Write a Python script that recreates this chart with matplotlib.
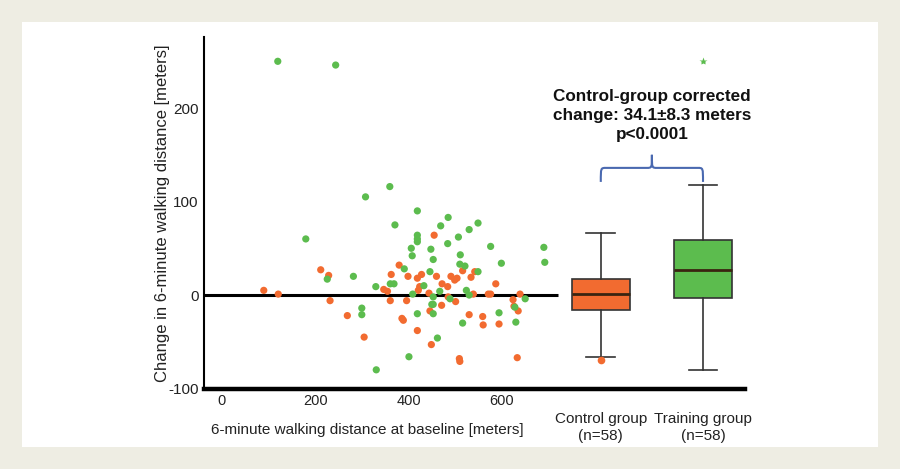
import matplotlib
matplotlib.use("Agg")
import matplotlib.pyplot as plt
from matplotlib.patches import Rectangle, PathPatch
from matplotlib.path import Path
from matplotlib import font_manager

# ---------------- data ----------------
control_x = [90, 121, 212, 229, 232, 269, 305, 347, 355, 363, 361, 380, 399, 396,
             386, 389, 419, 424, 421, 428, 419, 444, 446, 449, 455, 460, 471, 472,
             484, 491, 499, 504, 501, 509, 510, 516, 530, 534, 542, 539, 559, 560,
             571, 576, 587, 594, 624, 626, 635, 633, 639, 485]
control_y = [5, 1, 27, 21, -6, -22, -45, 6, 4, 22, -6, 32, 20, -6,
             -25, -27, 18, 9, 5, 22, -38, 2, -17, -53, 64, 20, -11, 12,
             9, 20, 16, 18, -7, -68, -71, 26, -21, 19, 25, 1, -23, -32,
             1, 1, 12, -31, -5, -12, -17, -67, 1, -2]

training_x = [120, 244, 180, 226, 282, 300, 300, 308, 330, 331, 360, 361, 369, 371,
              391, 401, 406, 408, 409, 419, 419, 419, 419, 419, 433, 446, 448, 453,
              453, 453, 450, 453, 462, 467, 469, 484, 485, 489, 507, 511, 510, 521,
              516, 524, 530, 530, 549, 549, 576, 594, 599, 628, 630, 650, 690, 692]
training_y = [250, 246, 60, 17, 20, -14, -21, 105, 9, -80, 116, 12, 12, 75,
              28, -66, 50, 42, 1, 90, 64, 60, 57, -20, 10, 25, 49, 38,
              -2, -10, -10, -20, -46, 4, 74, 55, 83, -4, 62, 43, 33, 31,
              -30, 5, 0, 70, 77, 25, 52, -19, 34, -13, -29, -4, 51, 35]

group_labels = ["Control group\n(n=58)", "Training group\n(n=58)"]
box_q1 = [-16, -3]
box_med = [1, 27]
box_q3 = [17, 59]
box_whislo = [-66, -80]
box_whishi = [66, 118]
box_fliers = [[-70], [250]]

x_ticks = [0, 200, 400, 600]
y_ticks = [-100, 0, 100, 200]

annotation = "Control-group corrected\nchange: 34.1±8.3 meters\np<0.0001"

# ---------------- style ----------------
orange = "#F26B30"
green = "#5CBC4E"
brace_col = "#4A69B0"
bg = "#EEEDE3"

names = {f.name for f in font_manager.fontManager.ttflist}
base_font = "Liberation Sans" if "Liberation Sans" in names else "DejaVu Sans"
plt.rcParams["font.family"] = [base_font, "DejaVu Sans"]

fig = plt.figure(figsize=(9, 4.69), dpi=100, facecolor=bg)
fig.patches.append(Rectangle((22 / 900, 22 / 469), 856 / 900, 425 / 469,
                             transform=fig.transFigure, facecolor="white",
                             edgecolor="none", zorder=-10))

ax = fig.add_axes([0.2267, 0.1716, 0.6011, 0.7495])
ax.set_zorder(1)
ax.set_facecolor("none")
ax.set_xlim(-38, 1121)
ax.set_ylim(-100, 276)

# zero reference line across the scatter part
ax.hlines(0, -38, 720, color="black", lw=2.2, zorder=2)

ax.scatter(control_x, control_y, s=27, color=orange, edgecolors="none", zorder=3)
ax.scatter(training_x, training_y, s=27, color=green, edgecolors="none", zorder=3)

positions = [812, 1031]
stats = []
for i in range(2):
    stats.append(dict(med=box_med[i], q1=box_q1[i], q3=box_q3[i],
                      whislo=box_whislo[i], whishi=box_whishi[i],
                      fliers=box_fliers[i], label=group_labels[i]))
bp = ax.bxp(stats, positions=positions, widths=124, patch_artist=True,
            capwidths=62, showfliers=True, manage_ticks=False,
            boxprops=dict(edgecolor="#333333", linewidth=1.2),
            whiskerprops=dict(color="#333333", linewidth=1.2),
            capprops=dict(color="#333333", linewidth=1.2),
            medianprops=dict(color="#3a2410", linewidth=2.0))
for patch, col in zip(bp["boxes"], [orange, green]):
    patch.set_facecolor(col)
bp["fliers"][0].set(marker="o", markerfacecolor=orange, markeredgecolor="none",
                    markersize=5.5)
bp["fliers"][1].set(marker="*", markerfacecolor=green, markeredgecolor="none",
                    markersize=6)

# curly brace between the two groups
x0, x1 = positions
xm = (x0 + x1) / 2
r = 11
y_end, y_bar, y_tip = 121, 136, 150
verts = [(x0, y_end), (x0, y_bar), (x0, y_bar), (x0 + r, y_bar),
         (xm - r, y_bar), (xm, y_bar), (xm, y_bar), (xm, y_tip),
         (xm, y_bar), (xm, y_bar), (xm + r, y_bar),
         (x1 - r, y_bar), (x1, y_bar), (x1, y_bar), (x1, y_end)]
codes = [Path.MOVETO, Path.CURVE4, Path.CURVE4, Path.CURVE4,
         Path.LINETO, Path.CURVE4, Path.CURVE4, Path.CURVE4,
         Path.CURVE4, Path.CURVE4, Path.CURVE4,
         Path.LINETO, Path.CURVE4, Path.CURVE4, Path.CURVE4]
ax.add_patch(PathPatch(Path(verts, codes), facecolor="none", edgecolor=brace_col,
                       lw=1.5, zorder=3))

ax.text(xm, 192, annotation, ha="center", va="center", fontsize=12.3,
        fontweight="bold", linespacing=1.33, color="#111111")

# axes styling
for s in ["top", "right"]:
    ax.spines[s].set_visible(False)
ax.spines["left"].set_linewidth(1.5)
ax.spines["bottom"].set_linewidth(3.2)

ax.set_xticks(x_ticks)
ax.set_xticklabels([str(v) for v in x_ticks], fontsize=10.5, color="#222222")
ax.set_xticks(positions, minor=True)
ax.set_xticklabels(group_labels, minor=True, fontsize=11, color="#222222",
                   linespacing=1.25)
ax.tick_params(axis="x", which="major", length=0, pad=4)
ax.tick_params(axis="x", which="minor", length=0, pad=17)
ax.set_yticks(y_ticks)
ax.set_yticklabels([str(v) for v in y_ticks], fontsize=11, color="#222222")
ax.tick_params(axis="y", length=0, pad=4)

ax.set_ylabel("Change in 6-minute walking distance [meters]", fontsize=12,
              color="#222222")
ax.yaxis.set_label_coords(-0.062, 0.5)
ax.set_xlabel("6-minute walking distance at baseline [meters]", fontsize=11,
              color="#222222", va="center")
ax.xaxis.set_label_coords(0.302, -0.118)

fig.savefig("out.png", dpi=100, facecolor=bg)
